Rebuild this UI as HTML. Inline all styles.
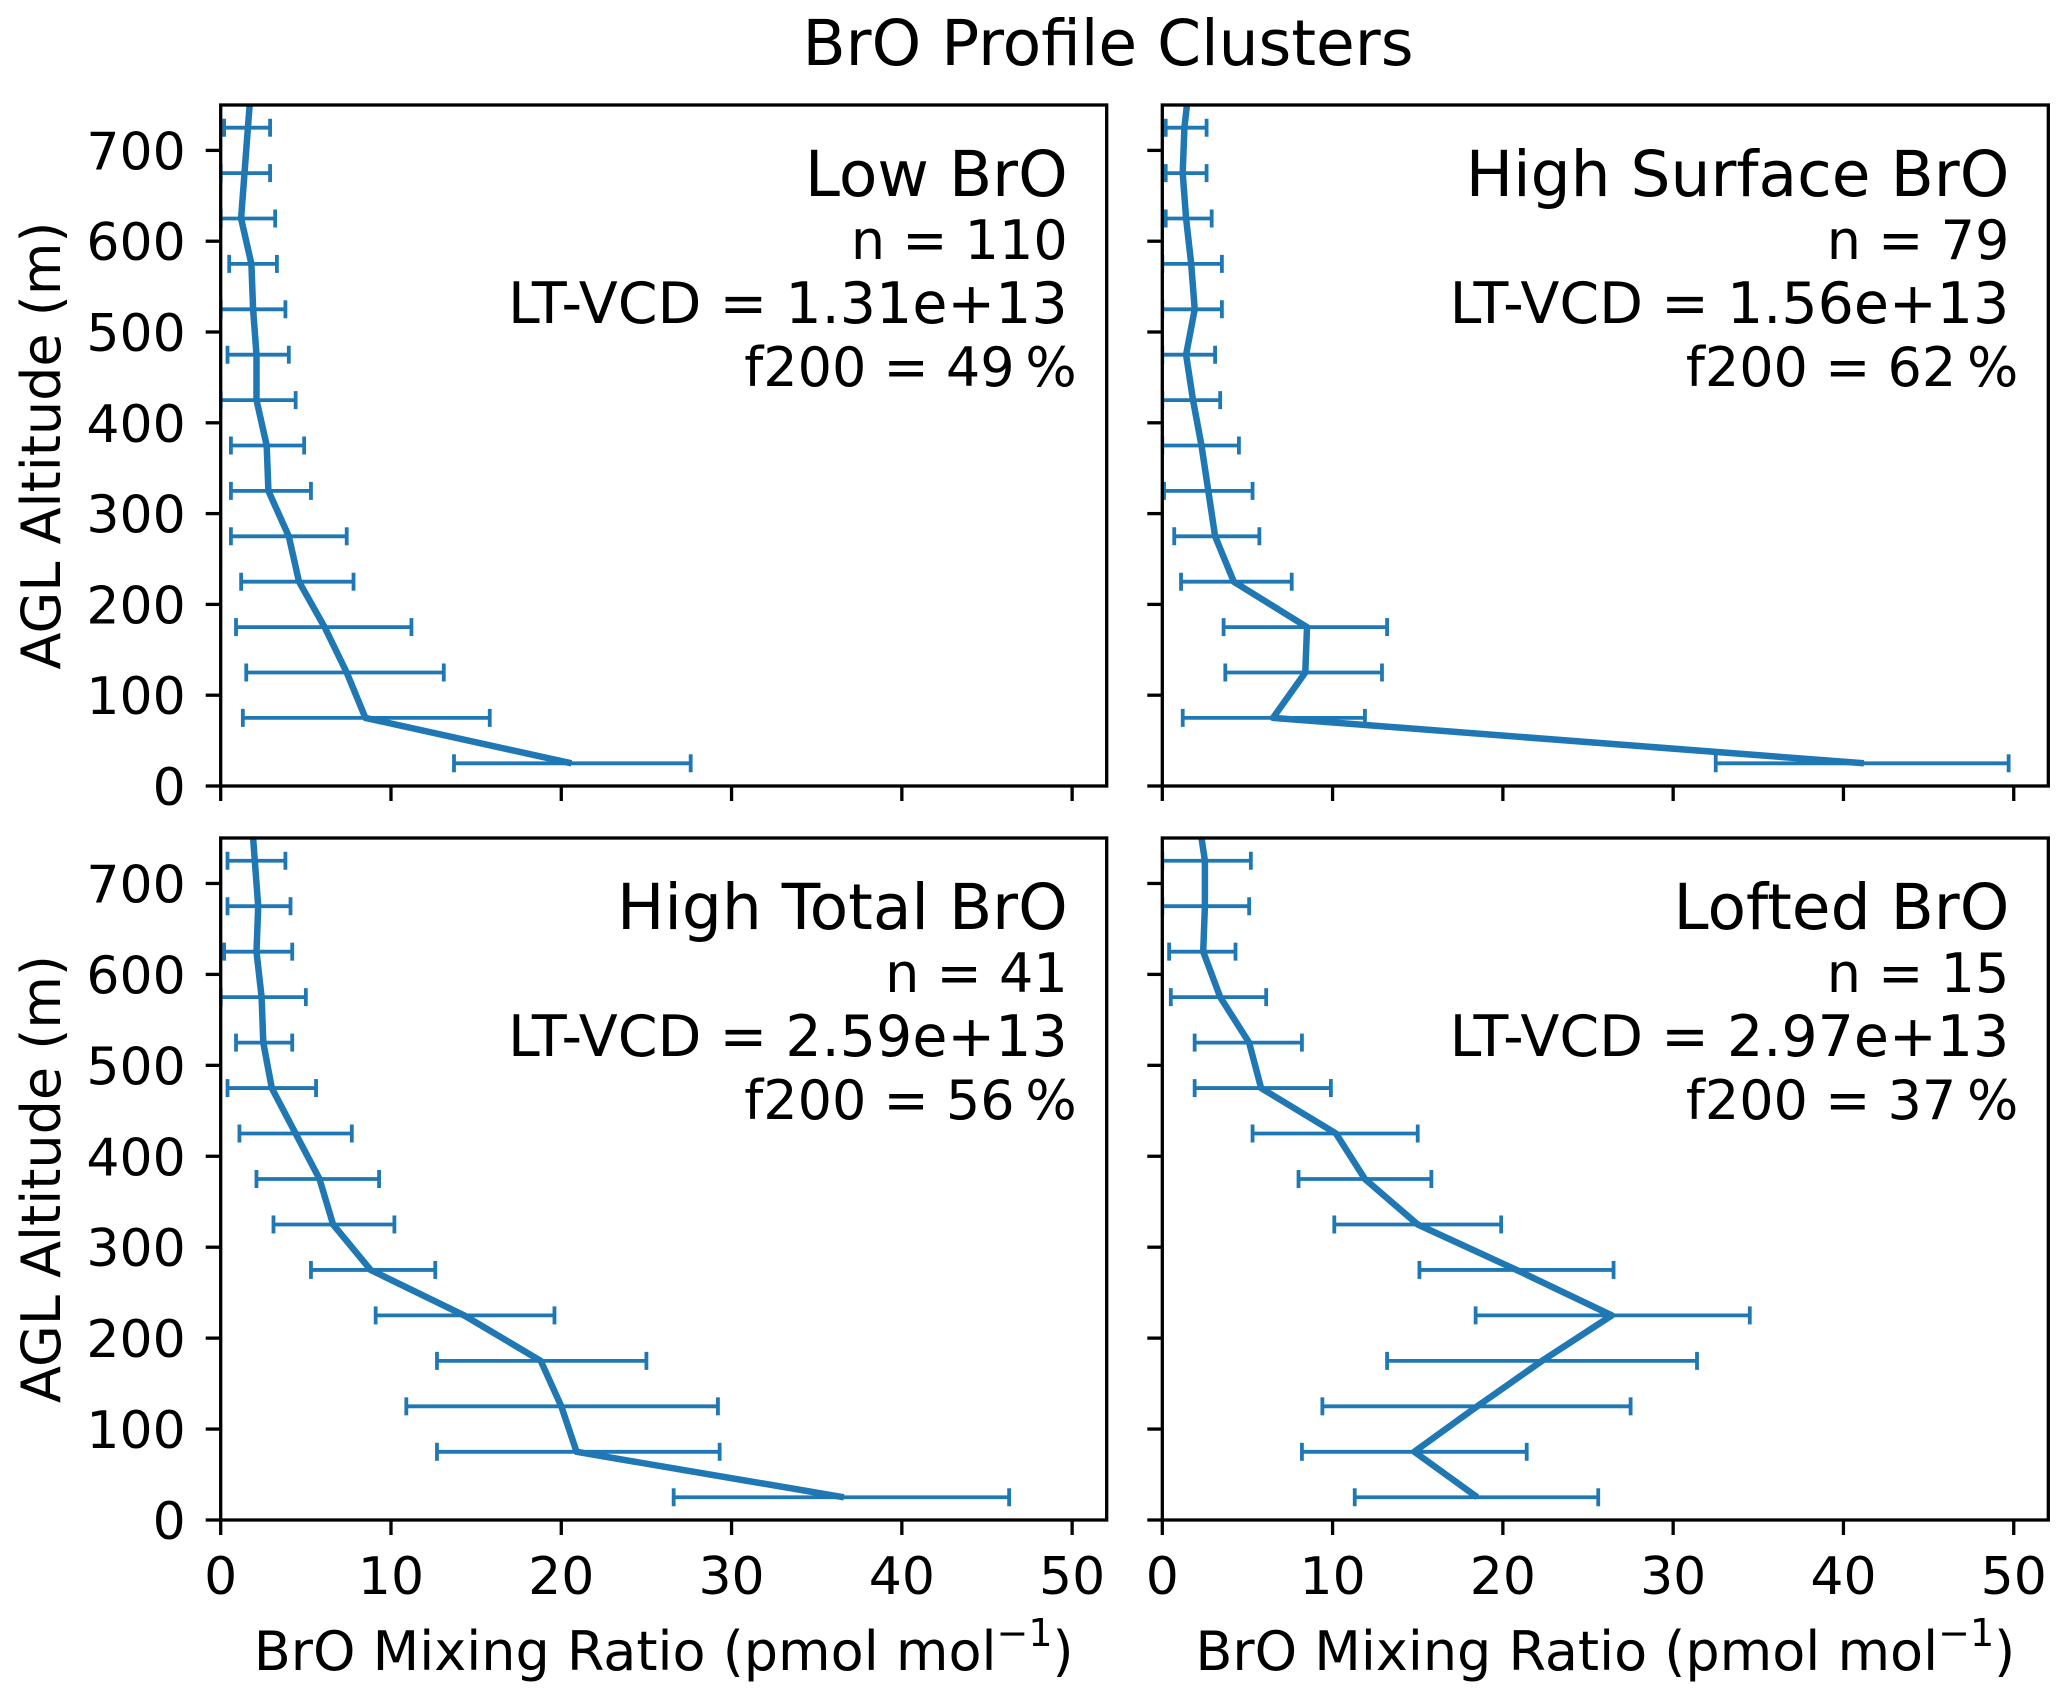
<!DOCTYPE html>
<html><head><meta charset="utf-8">
<style>
html,body{margin:0;padding:0;background:#fff;}
svg{display:block;font-family:"DejaVu Sans","Liberation Sans",sans-serif;}
</style></head>
<body>
<svg id="fig" width="2067" height="1699" viewBox="0 0 2067 1699" xmlns="http://www.w3.org/2000/svg">
<rect width="2067" height="1699" fill="#fff"/>
<text x="1108" y="65" font-size="63" text-anchor="middle">BrO Profile Clusters</text>
<g id="root"></g>
</svg>
<script>
// Altitude bins (m)
const altitudes = [25,75,125,175,225,275,325,375,425,475,525,575,625,675,725,775];
const xTicks = [0,10,20,30,40,50];
const yTicks = [0,100,200,300,400,500,600,700];

// Low BrO
const lowMean = [20.6,8.5,7.4,6.1,4.6,4.0,2.8,2.7,2.1,2.1,1.9,1.8,1.2,1.4,1.6,1.8];
const lowLo   = [13.7,1.3,1.5,0.9,1.2,0.6,0.6,0.6,0.0,0.4,0.0,0.5,0.0,0.0,0.2,0.4];
const lowHi   = [27.6,15.8,13.1,11.2,7.8,7.4,5.3,4.9,4.4,4.0,3.8,3.3,3.2,2.9,2.9,3.2];
// High Surface BrO
const surfMean = [41.2,6.5,8.4,8.5,4.2,3.1,2.7,2.3,1.8,1.4,1.9,1.7,1.4,1.2,1.3,1.6];
const surfLo   = [32.5,1.2,3.7,3.6,1.1,0.7,0.1,0.0,0.0,0.0,0.0,0.0,0.2,0.2,0.2,0.3];
const surfHi   = [49.7,11.9,12.9,13.2,7.6,5.7,5.3,4.5,3.4,3.1,3.5,3.5,2.9,2.6,2.6,2.9];
// High Total BrO
const totMean = [36.6,20.9,20.0,18.8,14.3,8.8,6.6,5.8,4.4,3.0,2.5,2.4,2.1,2.2,2.0,1.8];
const totLo   = [26.6,12.7,10.9,12.7,9.1,5.3,3.1,2.1,1.1,0.4,0.9,0.0,0.2,0.4,0.4,0.3];
const totHi   = [46.3,29.3,29.2,25.0,19.6,12.6,10.2,9.3,7.7,5.6,4.2,5.0,4.2,4.1,3.8,3.5];
// Lofted BrO
const loftMean = [18.5,14.8,18.5,22.3,26.4,20.8,15.0,11.9,10.2,5.8,5.1,3.4,2.4,2.5,2.5,2.1];
const loftLo   = [11.3,8.2,9.4,13.2,18.4,15.1,10.1,8.0,5.3,1.9,1.9,0.5,0.4,0.0,0.0,0.0];
const loftHi   = [25.6,21.4,27.5,31.4,34.5,26.5,19.9,15.8,15.0,9.9,8.2,6.1,4.3,5.1,5.2,4.5];

const panelTitles = ["Low BrO","High Surface BrO","High Total BrO","Lofted BrO"];
const panelN = ["110","79","41","15"];
const panelVCD = ["1.31e+13","1.56e+13","2.59e+13","2.97e+13"];
const panelF200 = ["49","62","56","37"];

const NS="http://www.w3.org/2000/svg";
const root=document.getElementById('root');
function mk(tag,attrs,parent){const e=document.createElementNS(NS,tag);for(const k in attrs)e.setAttribute(k,attrs[k]);(parent||root).appendChild(e);return e;}

const XMAX=52.03, YMAX=750;
const panels=[
 {x0:220.7,x1:1106.7,y0:105,y1:786,mean:lowMean,lo:lowLo,hi:lowHi,ylab:true,xlab:false,key:'low-bro'},
 {x0:1162.3,x1:2048.3,y0:105,y1:786,mean:surfMean,lo:surfLo,hi:surfHi,ylab:false,xlab:false,key:'high-surface-bro'},
 {x0:220.7,x1:1106.7,y0:838,y1:1520,mean:totMean,lo:totLo,hi:totHi,ylab:true,xlab:true,key:'high-total-bro'},
 {x0:1162.3,x1:2048.3,y0:838,y1:1520,mean:loftMean,lo:loftLo,hi:loftHi,ylab:false,xlab:true,key:'lofted-bro'}
];
const C="#1f77b4";
panels.forEach((p,i)=>{
 const g=mk('g',{});
 
 
 const sx=v=>p.x0+(p.x1-p.x0)*v/XMAX;
 const sy=v=>p.y1-(p.y1-p.y0)*v/YMAX;
 const cid='clip'+i;
 const cp=mk('clipPath',{id:cid},g);
 mk('rect',{x:p.x0,y:p.y0,width:p.x1-p.x0,height:p.y1-p.y0},cp);
 const data=mk('g',{'clip-path':'url(#'+cid+')'},g);
 altitudes.forEach((a,j)=>{
  const y=sy(a);
  const eb=mk('g',{stroke:C,'stroke-width':3.8,fill:'none'},data);
  
  
  mk('line',{x1:sx(p.lo[j]),x2:sx(p.hi[j]),y1:y,y2:y},eb);
  mk('line',{x1:sx(p.lo[j]),x2:sx(p.lo[j]),y1:y-9,y2:y+9},eb);
  mk('line',{x1:sx(p.hi[j]),x2:sx(p.hi[j]),y1:y-9,y2:y+9},eb);
 });
 const pts=altitudes.map((a,j)=>sx(p.mean[j]).toFixed(1)+','+sy(a).toFixed(1)).join(' ');
 const pl=mk('polyline',{points:pts,fill:'none',stroke:C,'stroke-width':6.5,'stroke-linejoin':'round'},data);
 
 
 const fr=mk('rect',{x:p.x0,y:p.y0,width:p.x1-p.x0,height:p.y1-p.y0,fill:'none',stroke:'#000','stroke-width':3.3},g);
 
 
 yTicks.forEach(t=>{
  const y=sy(t);
  mk('line',{x1:p.x0-15,x2:p.x0,y1:y,y2:y,stroke:'#000','stroke-width':3.3},g);
  if(p.ylab){
   const tl=mk('text',{x:p.x0-35,y:y+19,'font-size':52,'text-anchor':'end'},g);
   
   
   tl.textContent=t;
  }
 });
 xTicks.forEach(t=>{
  const x=sx(t);
  mk('line',{x1:x,x2:x,y1:p.y1,y2:p.y1+15,stroke:'#000','stroke-width':3.3},g);
  if(p.xlab){
   const tl=mk('text',{x:x,y:p.y1+74,'font-size':52,'text-anchor':'middle'},g);
   
   
   tl.textContent=t;
  }
 });
 if(p.ylab){
  const cy=(p.y0+p.y1)/2;
  const yl=mk('text',{x:60,y:cy,'font-size':54,'text-anchor':'middle',transform:'rotate(-90 60 '+cy+')'},g);
  
  
  yl.textContent='AGL Altitude (m)';
 }
 if(p.xlab){
  const xl=mk('text',{x:(p.x0+p.x1)/2,y:p.y1+150,'font-size':54,'text-anchor':'middle'},g);
  
  
  xl.textContent='BrO Mixing Ratio (pmol mol';
  const sup=mk('tspan',{'font-size':38,dy:-24},xl);
  sup.textContent='\u22121';
  const cl=mk('tspan',{'font-size':54,dy:24},xl);
  cl.textContent=')';
 }
 const rx=p.x1-39, by=p.y0+91;
 const t1=mk('text',{x:rx,y:by,'font-size':63,'text-anchor':'end'},g);
 
 
 t1.textContent=panelTitles[i];
 const t2=mk('text',{x:rx,y:by+63,'font-size':54,'text-anchor':'end'},g);
 
 
 t2.textContent='n = '+panelN[i];
 const t3=mk('text',{x:rx,y:by+127,'font-size':57,'text-anchor':'end'},g);
 
 
 t3.textContent='LT-VCD = '+panelVCD[i];
 const t4=mk('text',{x:rx+9,y:by+190,'font-size':54,'text-anchor':'end'},g);
 
 
 t4.textContent='f200 = '+panelF200[i]+'\u2009%';
});
</script>
</body></html>
